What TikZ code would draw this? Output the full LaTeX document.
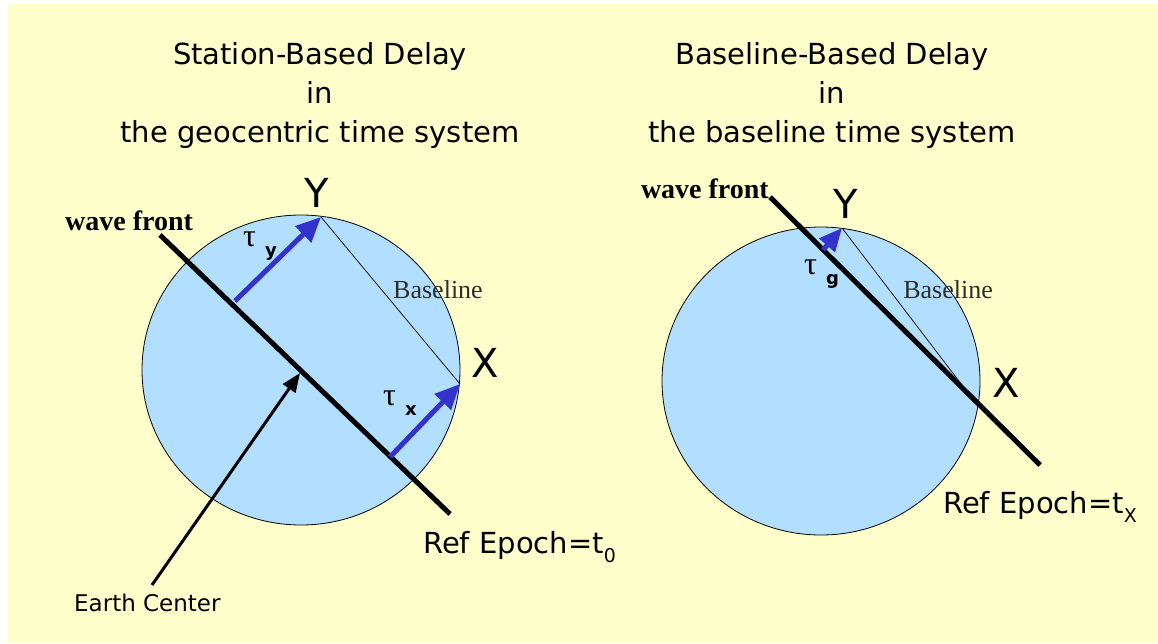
\documentclass[tikz,border=0pt]{standalone}
\usepackage{fontspec}
\setmainfont{DejaVu Sans}
\newfontfamily\serifface{Liberation Serif}
\usetikzlibrary{arrows.meta,shapes.geometric}
\definecolor{bgyellow}{RGB}{255,255,204}
\definecolor{earthblue}{RGB}{178,222,255}
\definecolor{delayblue}{RGB}{51,51,204}
\definecolor{basegrey}{RGB}{45,45,45}
\newcommand{\taulabel}[1]{{\serifface\fontsize{32}{32}\selectfont τ}\hspace{9pt}\raisebox{-10pt}{\fontsize{18}{18}\selectfont\bfseries #1}}
\begin{document}
\begin{tikzpicture}[x=1pt,y=-1pt,
  earth/.style={ellipse, draw=black, line width=0.8pt, fill=earthblue, minimum width=318pt, minimum height=310pt, inner sep=0pt},
  wavefront/.style={line width=5pt},
  delay/.style={draw=delayblue, line width=5pt, -{Triangle[length=25pt,width=22pt]}},
  baseln/.style={line width=0.7pt},
  centerarrow/.style={line width=3pt, -{Triangle[length=19pt,width=15pt]}},
  title/.style={font=\fontsize{29}{39}\selectfont, align=center, anchor=base, inner sep=0pt},
  station/.style={font=\fontsize{40}{40}\selectfont, anchor=base, inner sep=0pt},
  wavelabel/.style={font=\serifface\bfseries\fontsize{28}{28}\selectfont, anchor=base, inner sep=0pt},
  baselabel/.style={font=\serifface\fontsize{26}{26}\selectfont, text=basegrey, anchor=base, inner sep=0pt},
  epoch/.style={font=\fontsize{29}{29}\selectfont, anchor=base west, inner sep=0pt},
  taunode/.style={anchor=base west, inner sep=0pt},
]
\path[use as bounding box, fill=white] (0,0) rectangle (1158,643);
\fill[bgyellow] (8,4) rectangle (1158,643);

% ---------- left diagram ----------
\node[title] (titleL) at (320,142) {Station-Based Delay\\in\\the geocentric time system};
\node[earth] (earthL) at (301,370) {};
\coordinate (YL) at (321,217);
\coordinate (XL) at (460,384);
\coordinate (wfL1) at (160,235);
\coordinate (wfL2) at (450,514);
\coordinate (ecL) at (300,373);
\coordinate (tyL) at (235,301);
\coordinate (txL) at (390,457);
\coordinate (ecStart) at (152,585);
\draw[baseln] (YL) -- (XL);
\draw[wavefront] (wfL1) -- (wfL2);
\draw[delay] (tyL) -- (YL);
\draw[delay] (txL) -- (XL);
\draw[centerarrow] (ecStart) -- (ecL);
\node[station] (labYL) at (317,207) {Y};
\node[station] (labXL) at (485,377) {X};
\node[wavelabel, anchor=base west] (wavL) at (65,230) {wave front};
\node[baselabel] (baseL) at (438,298) {Baseline};
\node[taunode] (tauY) at (243,246) {\taulabel{y}};
\node[taunode] (tauX) at (383,405) {\taulabel{x}};
\node[font=\fontsize{23}{23}\selectfont, anchor=base west, inner sep=0pt] (ecText) at (74,611) {Earth Center};
\node[epoch] (epL) at (423,553) {Ref Epoch=t\raisebox{-9pt}{\fontsize{19}{19}\selectfont 0}};

% ---------- right diagram ----------
\node[title] (titleR) at (832,142) {Baseline-Based Delay\\in\\the baseline time system};
\node[earth, minimum height=308pt] (earthR) at (821,381) {};
\coordinate (YR) at (842,228);
\coordinate (XR) at (978,406);
\coordinate (wfR1) at (770,197);
\coordinate (wfR2) at (1040,465);
\coordinate (tgR) at (823,250);
\draw[baseln] (YR) -- (XR);
\draw[wavefront] (wfR1) -- (wfR2);
\draw[delay, -{Triangle[length=23pt,width=20pt]}] (tgR) -- (YR);
\node[station] (labYR) at (846,218) {Y};
\node[station] (labXR) at (1006,397) {X};
\node[wavelabel, anchor=base east] (wavR) at (769,198) {wave front};
\node[baselabel] (baseR) at (948,298) {Baseline};
\node[taunode] (tauG) at (804,274) {\taulabel{g}};
\node[epoch] (epR) at (943,513) {Ref Epoch=t\raisebox{-9pt}{\fontsize{19}{19}\selectfont X}};
\end{tikzpicture}
\end{document}
